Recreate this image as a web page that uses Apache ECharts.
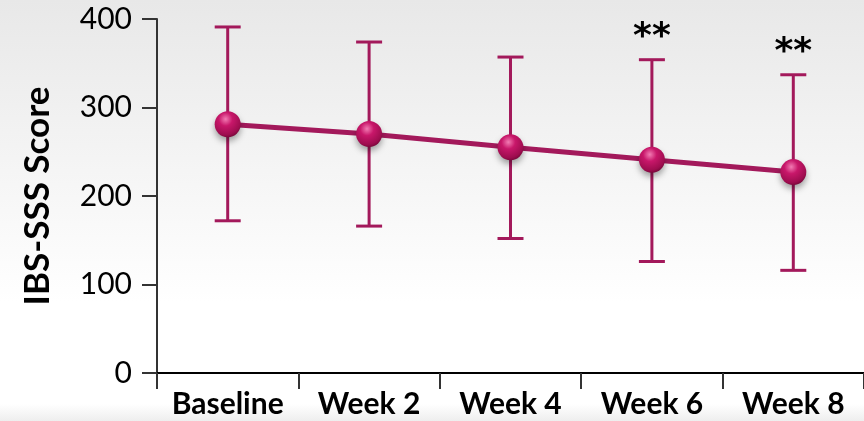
<!DOCTYPE html>
<html>
<head>
<meta charset="utf-8">
<script src="https://cdn.jsdelivr.net/npm/echarts@6/dist/echarts.min.js"></script>
<style>
  html, body { margin: 0; padding: 0; background: #fff; }
  #chart { width: 864px; height: 421px; }
</style>
</head>
<body>
<div id="chart"></div>
<script>
// IBS-SSS score over the treatment period (mean with error bars)
const categories = ['Baseline', 'Week 2', 'Week 4', 'Week 6', 'Week 8'];
const meanScore = [281, 270, 255, 241, 227];
const upperBound = [391, 374, 357, 354, 337];
const lowerBound = [172, 166, 152, 126, 116];
const significance = ['', '', '', '**', '**'];
const yTicks = { min: 0, max: 400, interval: 100 };

const markColor = '#a3195b';
const font = 'Lato, "Open Sans", sans-serif';

const errorData = categories.map((c, i) => [i, lowerBound[i], upperBound[i], significance[i]]);

const chart = echarts.init(document.getElementById('chart'), null, { renderer: 'canvas' });

chart.setOption({
  backgroundColor: {
    type: 'linear', x: 0, y: 0, x2: 0, y2: 1,
    colorStops: [
      { offset: 0, color: '#e8e8e8' },
      { offset: 0.72, color: '#ffffff' },
      { offset: 0.96, color: '#ffffff' },
      { offset: 1, color: '#eeeeee' }
    ]
  },
  animation: false,
  grid: { left: 157, top: 19, width: 716, height: 354 },
  xAxis: {
    type: 'category',
    data: categories,
    boundaryGap: true,
    axisLine: { show: true, lineStyle: { color: '#000', width: 2 } },
    axisTick: { show: true, interval: 0, length: 16, lineStyle: { color: '#333', width: 2 } },
    axisLabel: {
      color: '#000', fontFamily: font, fontWeight: 'bold', fontSize: 30, margin: 16,
      interval: 0, hideOverlap: false
    },
    splitLine: { show: false }
  },
  yAxis: {
    type: 'value',
    min: yTicks.min,
    max: yTicks.max,
    interval: yTicks.interval,
    name: 'IBS-SSS Score',
    nameLocation: 'middle',
    nameGap: 102,
    nameTextStyle: { color: '#000', fontFamily: font, fontWeight: 'bold', fontSize: 35 },
    axisLine: { show: true, lineStyle: { color: '#333', width: 2 } },
    axisTick: { show: true, inside: false, length: 15, lineStyle: { color: '#333', width: 2 } },
    axisLabel: { color: '#000', fontFamily: font, fontSize: 30, margin: 25 },
    splitLine: { show: false }
  },
  series: [
    {
      type: 'custom',
      name: 'range',
      data: errorData,
      z: 2,
      renderItem: function (params, api) {
        const x = api.coord([api.value(0), 0])[0];
        const yLow = api.coord([api.value(0), api.value(1)])[1];
        const yHigh = api.coord([api.value(0), api.value(2)])[1];
        const cap = 13;
        const style = { stroke: markColor, lineWidth: 3 };
        const children = [
          { type: 'line', shape: { x1: x, y1: yLow, x2: x, y2: yHigh }, style: style },
          { type: 'line', shape: { x1: x - cap, y1: yHigh, x2: x + cap, y2: yHigh }, style: style },
          { type: 'line', shape: { x1: x - cap, y1: yLow, x2: x + cap, y2: yLow }, style: style }
        ];
        const sig = significance[params.dataIndex];
        if (sig) {
          children.push({
            type: 'text',
            style: {
              text: sig, x: x, y: yHigh - 22,
              align: 'center', verticalAlign: 'middle',
              fill: '#000', font: 'bold 36px "DejaVu Sans", sans-serif'
            }
          });
        }
        return { type: 'group', children: children };
      }
    },
    {
      type: 'line',
      name: 'IBS-SSS',
      data: meanScore,
      z: 3,
      symbol: 'circle',
      symbolSize: 26,
      lineStyle: { color: markColor, width: 5 },
      itemStyle: {
        color: {
          type: 'radial', x: 0.42, y: 0.3, r: 0.75,
          colorStops: [
            { offset: 0, color: '#f27bb3' },
            { offset: 0.35, color: '#c8176a' },
            { offset: 0.8, color: '#9e0d4f' },
            { offset: 1, color: '#6d0634' }
          ]
        },
        shadowBlur: 6,
        shadowColor: 'rgba(0,0,0,0.35)',
        shadowOffsetY: 4
      }
    }
  ]
});
</script>
</body>
</html>
